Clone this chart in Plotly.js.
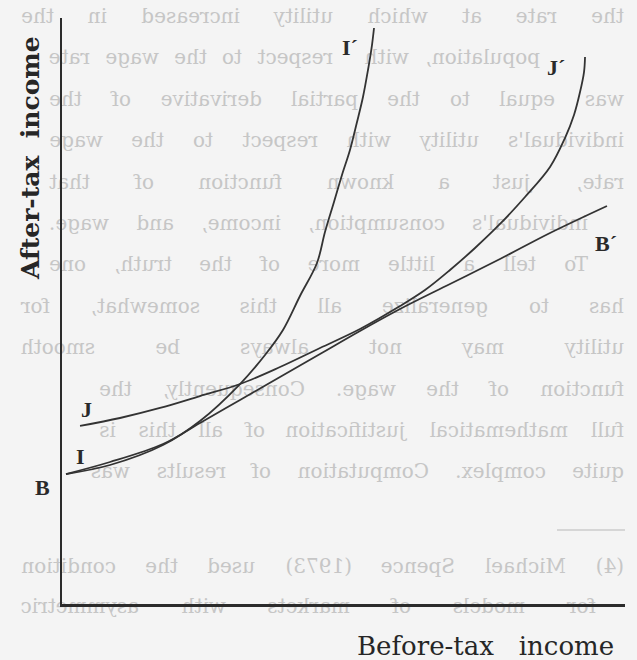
<!DOCTYPE html>
<html><head><meta charset="utf-8">
<script src="https://cdn.plot.ly/plotly-3.0.1.min.js"></script>
<style>
html,body{margin:0;padding:0;background:#f4f4f4;}
#wrap{position:relative;width:637px;height:660px;overflow:hidden;}
#bleed{position:absolute;left:0;top:0;width:637px;height:660px;transform:scaleX(-1);}
#chart{position:absolute;left:0;top:0;width:637px;height:660px;}
</style></head><body>
<div id="wrap"><div id="bleed"></div><div id="chart"></div></div>
<script>
// ---- data (axis units 0..100) ----
const budgetX = [0.71, 8.53, 17.94, 24.51, 31.62, 38.72, 45.83, 52.93, 60.04, 68.92, 77.80, 86.68, 96.80];
const budgetY = [22.18, 24.23, 27.30, 30.89, 34.81, 38.74, 42.66, 46.59, 50.34, 54.61, 58.87, 63.31, 67.92];

const curveIX = [0.71, 8.53, 17.94, 24.51, 31.62, 36.06, 39.25, 42.27, 45.29, 46.71, 48.31, 49.73, 51.15, 52.40, 53.46, 54.35, 55.06, 55.42];
const curveIY = [22.18, 23.72, 27.13, 31.23, 37.54, 42.49, 46.76, 52.56, 58.19, 63.48, 68.60, 73.21, 77.47, 82.25, 86.52, 91.13, 95.39, 98.29];

const curveJX = [3.20, 10.30, 17.41, 24.51, 31.62, 38.72, 45.83, 52.93, 60.04, 64.48, 68.92, 73.36, 77.80, 82.24, 86.68, 89.34, 90.94, 92.01, 92.72, 92.90];
const curveJY = [30.38, 31.74, 33.45, 35.49, 37.54, 40.44, 43.69, 46.93, 50.85, 53.58, 57.00, 60.75, 64.85, 69.45, 74.57, 79.52, 83.45, 87.37, 90.78, 93.34];

const xTitle = 'Before-tax\u00a0\u00a0 income';
const yTitle = 'After-tax\u00a0 income';
const curveLabels = ['I\u00b4', 'J\u00b4', 'B\u00b4', 'J', 'I', 'B'];

// show-through text from the reverse side of the page (seen mirrored)
const bleedLines = [
  'the rate at which utility increased in the',
  'population, with respect to the wage rate',
  'was equal to the partial derivative of the',
  "individual's utility with respect to the wage",
  'rate, just a known function of that',
  "individual's consumption, income, and wage.",
  'To tell a little more of the truth, one',
  'has to generalize all this somewhat, for',
  'utility may not always be smooth',
  'function of the wage. Consequently, the',
  'full mathematical justification of all this is',
  'quite complex. Computation of results was'
];
const footLines = [
  '(4) Michael Spence (1973) used the condition',
  'for models of markets with asymmetric'
];

// ---- background (mirrored show-through), flowed around the diagram labels ----
const W = 637;
const bleedFont = {family: 'DejaVu Serif', size: 20, color: '#c6c6c6'};
const keepClear = [   // page-pixel boxes [left, right, top, bottom]
  [334, 366, 32, 62], [541, 572, 53, 83], [589, 624, 228, 258],
  [74, 100, 396, 424], [69, 92, 443, 472], [28, 56, 473, 503],
  [12, 50, 28, 290], [346, 624, 628, 662]
];
const cv = document.createElement('canvas').getContext('2d');
cv.font = bleedFont.size + 'px "DejaVu Serif"';

function flowLine(line, y, realL, realR, out) {
  const words = line.split(' ');
  const widths = words.map(w => cv.measureText(w).width);
  // free page intervals on this line
  let segs = [[realL, realR]];
  keepClear.forEach(k => {
    if (k[2] < y + 11 && k[3] > y - 11) {
      const next = [];
      segs.forEach(s => {
        if (k[1] <= s[0] || k[0] >= s[1]) { next.push(s); return; }
        if (k[0] > s[0]) next.push([s[0], k[0]]);
        if (k[1] < s[1]) next.push([k[1], s[1]]);
      });
      segs = next;
    }
  });
  // to mirrored (unflipped) coordinates, reading order left to right
  segs = segs.map(s => [W - s[1], W - s[0]]).sort((a, b) => a[0] - b[0]);
  const groups = segs.map(() => []);
  const minGap = 6;
  let si = 0, used = 0;
  for (let i = 0; i < words.length; i++) {
    let placed = false;
    while (si < segs.length) {
      const segW = segs[si][1] - segs[si][0];
      const need = (groups[si].length ? used + minGap : 0) + widths[i];
      if (need <= segW) { groups[si].push(i); used = need; placed = true; break; }
      si++; used = 0;
    }
    if (!placed) break;
  }
  groups.forEach((g, gi) => {
    if (!g.length) return;
    const s = segs[gi];
    const tot = g.reduce((a, i) => a + widths[i], 0);
    const gap = g.length > 1 ? (s[1] - s[0] - tot) / (g.length - 1) : 0;
    let x = s[0];
    g.forEach(i => {
      out.push({x: x, y: y, xref: 'x', yref: 'y', text: words[i], showarrow: false,
        xanchor: 'left', yanchor: 'middle', borderpad: 0, font: bleedFont});
      x += widths[i] + gap;
    });
  });
}
const bleedAnn = [];
bleedLines.forEach((l, i) => flowLine(l, 16 + i * 41.4, 22, 625, bleedAnn));
flowLine(footLines[0], 566, 22, 625, bleedAnn);
flowLine(footLines[1], 606, 22, 597, bleedAnn);

Plotly.newPlot('bleed', [], {
  width: 637, height: 660, margin: {l: 0, r: 0, t: 0, b: 0, pad: 0},
  paper_bgcolor: '#f4f4f4', plot_bgcolor: '#f4f4f4', showlegend: false,
  xaxis: {range: [0, 637], visible: false, fixedrange: true},
  yaxis: {range: [660, 0], visible: false, fixedrange: true},
  annotations: bleedAnn,
  shapes: [{type: 'line', xref: 'x', yref: 'y', x0: 12, x1: 80, y0: 530, y1: 530,
    line: {color: '#cccccc', width: 1.5}}]
}, {staticPlot: true});

// ---- the diagram ----
const lineStyle = {color: '#333333', width: 1.8, shape: 'spline', smoothing: 1};
const traces = [
  {x: budgetX, y: budgetY, mode: 'lines', line: lineStyle, hoverinfo: 'skip'},
  {x: curveIX, y: curveIY, mode: 'lines', line: lineStyle, hoverinfo: 'skip'},
  {x: curveJX, y: curveJY, mode: 'lines', line: lineStyle, hoverinfo: 'skip'}
];

const labFont = {family: 'Liberation Serif', size: 22, color: '#2a2a2a', weight: 'bold'};
function lab(text, x, y, extra) {
  return Object.assign({text: text, x: x, y: y, xref: 'paper', yref: 'paper', showarrow: false,
    xanchor: 'center', yanchor: 'middle', font: labFont}, extra || {});
}
const annotations = [
  lab(curveLabels[0], 0.5115, 0.9505),
  lab(curveLabels[1], 0.8774, 0.9147),
  lab(curveLabels[2], 0.9662, 0.6160),
  lab(curveLabels[3], 0.0444, 0.3311),
  lab(curveLabels[4], 0.0320, 0.2509),
  lab(curveLabels[5], -0.0355, 0.1980),
  lab(xTitle, 0.7522, -0.0717, {font: {family: 'DejaVu Serif', size: 26, color: '#262626'}}),
  lab(yTitle, -0.0551, 0.7611, {textangle: -90, font: {family: 'DejaVu Serif', size: 25, color: '#262626', weight: 'bold'}})
];

const axisBase = {range: [0, 100], showgrid: false, zeroline: false, showticklabels: false,
  ticks: '', showline: true, linecolor: '#2b2b2b', linewidth: 2.5, fixedrange: true};

Plotly.newPlot('chart', traces, {
  width: 637, height: 660,
  margin: {l: 62, r: 12, t: 18, b: 56, pad: 0},
  paper_bgcolor: 'rgba(0,0,0,0)', plot_bgcolor: 'rgba(0,0,0,0)',
  showlegend: false,
  xaxis: axisBase,
  yaxis: axisBase,
  annotations: annotations
}, {staticPlot: true});
</script></body></html>
